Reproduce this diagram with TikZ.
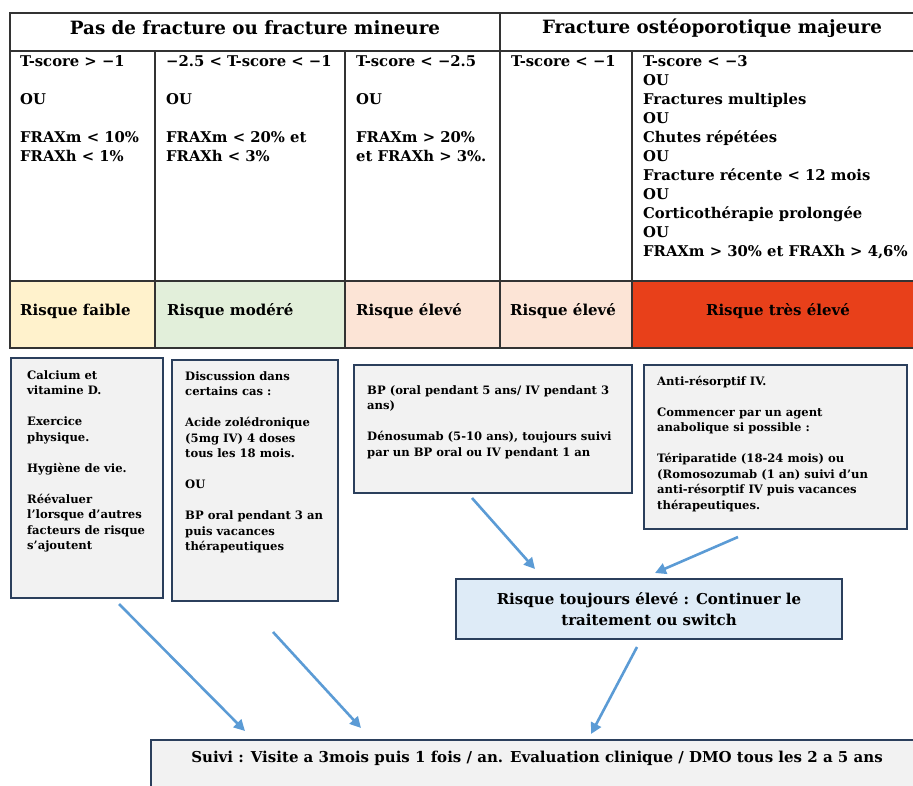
\documentclass[tikz,border=0pt]{standalone}
\usepackage{fontspec}
\setmainfont{DejaVu Serif}
\usetikzlibrary{arrows.meta}

\definecolor{gridline}{HTML}{333333}
\definecolor{lowfill}{HTML}{FFF2CC}
\definecolor{modfill}{HTML}{E2EFDA}
\definecolor{highfill}{HTML}{FCE4D6}
\definecolor{vhighfill}{HTML}{E8401A}
\definecolor{cardline}{HTML}{2B3F5C}
\definecolor{cardfill}{HTML}{F2F2F2}
\definecolor{stillfill}{HTML}{DEEBF7}
\definecolor{flowblue}{HTML}{5B9BD5}

\begin{document}
\begin{tikzpicture}[x=1pt,y=-1pt,
  cell/.style={draw=gridline, line width=1.2pt, anchor=north west, inner sep=0pt, outer sep=0pt},
  head/.style={font=\bfseries\fontsize{18.3}{22}\selectfont, inner sep=0pt},
  crit/.style={anchor=north west, inner sep=0pt, align=left, font=\bfseries\fontsize{14.8}{19}\selectfont},
  risk/.style={font=\bfseries\fontsize{15}{18}\selectfont, inner sep=0pt},
  card/.style={draw=cardline, line width=2pt, fill=cardfill, anchor=north west, inner sep=0pt},
  cardtext/.style={anchor=north west, inner sep=0pt, align=left, font=\bfseries\fontsize{11.6}{15.5}\selectfont},
  flow/.style={draw=flowblue, line width=2.6pt, -{Triangle[length=11pt,width=11pt]}},
]
\useasboundingbox (0,0) rectangle (913,785);

% ---- header row
\node[cell, minimum width=490pt, minimum height=38pt] (hdrA) at (10,13) {};
\node[cell, minimum width=415pt, minimum height=38pt] (hdrB) at (500,13) {};
\node[head] (hdrAtxt) at (255,28) {Pas de fracture ou fracture mineure};
\node[head] (hdrBtxt) at (712,28) {Fracture ostéoporotique majeure};

% ---- criteria row
\node[cell, minimum width=145pt, minimum height=230pt] (c1) at (10,51) {};
\node[cell, minimum width=190pt, minimum height=230pt] (c2) at (155,51) {};
\node[cell, minimum width=155pt, minimum height=230pt] (c3) at (345,51) {};
\node[cell, minimum width=132pt, minimum height=230pt] (c4) at (500,51) {};
\node[cell, minimum width=283pt, minimum height=230pt] (c5) at (632,51) {};

\node[crit] (c1txt) at (20,55) {T-score > −1\\[19pt]OU\\[19pt]FRAXm < 10\%\\FRAXh < 1\%};
\node[crit] (c2txt) at (166,55) {−2.5 < T-score < −1\\[19pt]OU\\[19pt]FRAXm < 20\% et\\FRAXh < 3\%};
\node[crit] (c3txt) at (356,55) {T-score < −2.5\\[19pt]OU\\[19pt]FRAXm > 20\%\\et FRAXh > 3\%.};
\node[crit] (c4txt) at (511,55) {T-score < −1};
\node[crit] (c5txt) at (643,55) {T-score < −3\\OU\\Fractures multiples\\OU\\Chutes répétées\\OU\\Fracture récente < 12 mois\\OU\\Corticothérapie prolongée\\OU\\FRAXm > 30\% et FRAXh > 4,6\%};

% ---- risk row
\node[cell, fill=lowfill,   minimum width=145pt, minimum height=67pt] (r1) at (10,281) {};
\node[cell, fill=modfill,   minimum width=190pt, minimum height=67pt] (r2) at (155,281) {};
\node[cell, fill=highfill,  minimum width=155pt, minimum height=67pt] (r3) at (345,281) {};
\node[cell, fill=highfill,  minimum width=132pt, minimum height=67pt] (r4) at (500,281) {};
\node[cell, fill=vhighfill, minimum width=283pt, minimum height=67pt] (r5) at (632,281) {};

\node[risk, anchor=west] (r1txt) at (20,311) {Risque faible};
\node[risk, anchor=west] (r2txt) at (167,311) {Risque modéré};
\node[risk, anchor=west] (r3txt) at (356,311) {Risque élevé};
\node[risk, anchor=west] (r4txt) at (510,311) {Risque élevé};
\node[risk] (r5txt) at (778,311) {Risque très élevé};

% ---- treatment cards
\node[card, minimum width=152pt, minimum height=240pt] (lowcare) at (10,357) {};
\node[card, minimum width=166pt, minimum height=241pt] (modcare) at (171,359) {};
\node[card, minimum width=278pt, minimum height=128pt] (highcare) at (353,364) {};
\node[card, minimum width=263pt, minimum height=164pt] (vhighcare) at (643,364) {};

\node[cardtext] (lowtxt) at (27,370) {Calcium et\\vitamine D.\\[15.5pt]Exercice\\physique.\\[15.5pt]Hygiène de vie.\\[15.5pt]Réévaluer\\l'lorsque d'autres\\facteurs de risque\\s'ajoutent};
\node[cardtext] (modtxt) at (185,371) {Discussion dans\\certains cas :\\[15.5pt]Acide zolédronique\\(5mg IV) 4 doses\\tous les 18 mois.\\[15.5pt]OU\\[15.5pt]BP oral pendant 3 an\\puis vacances\\thérapeutiques};
\node[cardtext] (hightxt) at (367,385) {BP (oral pendant 5 ans/ IV pendant 3\\ans)\\[15.5pt]Dénosumab (5-10 ans), toujours suivi\\par un BP oral ou IV pendant 1 an};
\node[cardtext] (vhightxt) at (657,376) {Anti-résorptif IV.\\[15.5pt]Commencer par un agent\\anabolique si possible :\\[15.5pt]Tériparatide (18-24 mois) ou\\(Romosozumab (1 an) suivi d’un\\anti-résorptif IV puis vacances\\thérapeutiques.};

% ---- still high risk, follow-up
\node[card, anchor=center, fill=stillfill, minimum width=386pt, minimum height=60pt, align=center,
      font=\bfseries\fontsize{15}{21}\selectfont] (still) at (649,609)
      {Risque toujours élevé : Continuer le\\traitement ou switch};
\node[card, minimum width=775pt, minimum height=70pt] (follow) at (150,739) {};
\node[inner sep=0pt, font=\bfseries\fontsize{15}{18}\selectfont] (followtxt) at (537,758)
      {Suivi : Visite a 3mois puis 1 fois / an. Evaluation clinique / DMO tous les 2 a 5 ans};

% ---- arrows
\coordinate (f1s) at (119,604); \coordinate (f1e) at (245,731);
\coordinate (f2s) at (273,632); \coordinate (f2e) at (361,728);
\coordinate (f3s) at (472,498); \coordinate (f3e) at (535,569);
\coordinate (f4s) at (738,537); \coordinate (f4e) at (655,573);
\coordinate (f5s) at (637,647); \coordinate (f5e) at (591,734);
\draw[flow] (f1s) -- (f1e);
\draw[flow] (f2s) -- (f2e);
\draw[flow] (f3s) -- (f3e);
\draw[flow] (f4s) -- (f4e);
\draw[flow] (f5s) -- (f5e);
\end{tikzpicture}
\end{document}
